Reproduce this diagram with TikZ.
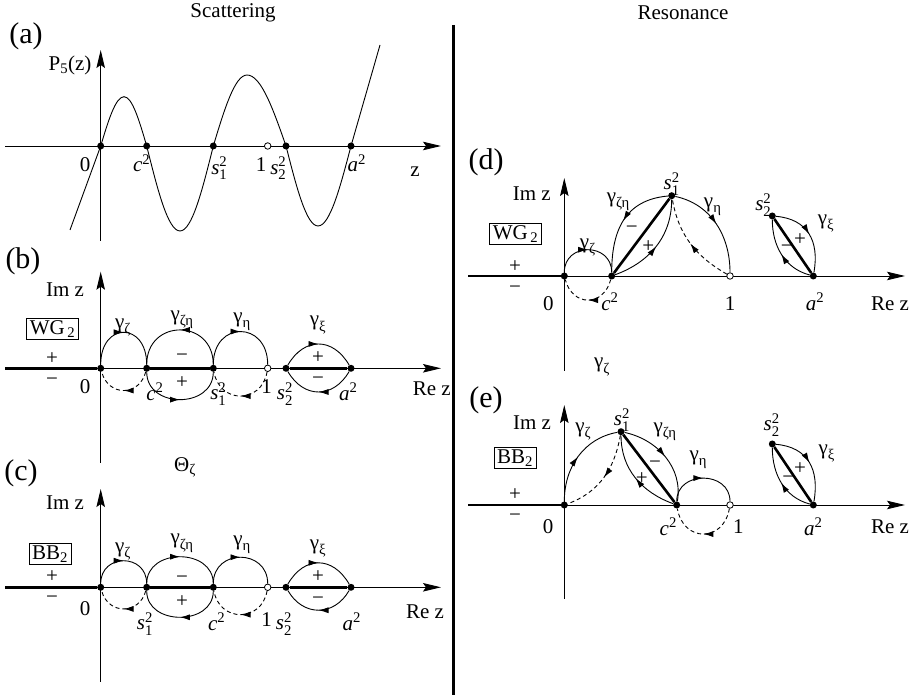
\documentclass[tikz,border=0pt]{standalone}
\usepackage{amsmath}
\usepackage{fontspec}
\setmainfont{Liberation Serif}
\usepackage{tikz}
\usetikzlibrary{arrows.meta,decorations.markings}
\newcommand{\lblfont}{\fontsize{21}{24}\selectfont}
\newcommand{\tagfont}{\fontsize{30}{33}\selectfont}
\newcommand{\gam}[1]{$\text{γ}_{\text{#1}}$}
\newcommand{\sqv}[1]{$\textit{#1}^{\text{2}}$}
\newcommand{\sqs}[1]{$\textit{s}^{\text{2}}_{\text{#1}}$}
\tikzset{
  axisline/.style={-{Stealth[length=18pt, width=8.5pt, inset=3pt]}, draw=black, line width=0.9pt},
  cutline/.style={draw=black, line width=2.6pt},
  graphline/.style={draw=black, line width=0.9pt},
  contour/.style={draw=black, line width=0.9pt, postaction={decorate},
    decoration={markings, mark=at position 0.5 with {\arrow{Latex[length=10pt, width=6pt]}}}},
  ghostcontour/.style={contour, dash pattern=on 4pt off 3pt},
  divider/.style={draw=black, line width=3pt},
  dotnode/.style={circle, fill=black, inner sep=0pt, minimum size=7pt},
  opennode/.style={circle, draw=black, fill=white, line width=0.8pt, inner sep=0pt, minimum size=6.5pt},
  lbl/.style={font=\lblfont, inner sep=0pt},
  tagbox/.style={draw=black, line width=0.8pt, inner xsep=3pt, inner ysep=2pt, font=\lblfont},
  panelnode/.style={font=\tagfont, inner sep=0pt},
}
\begin{document}
\begin{tikzpicture}[x=1pt, y=1pt]
  \useasboundingbox (0,0) rectangle (909,695);
  \node[lbl] (scat) at (233,682) {Scattering};
  \node[lbl] (reso) at (683,682) {Resonance};
  \coordinate (divTop) at (453,670);
  \coordinate (divBot) at (453,0);
  \draw[divider] (divTop) -- (divBot);
  \node[panelnode] (pa) at (26,659) {(a)};
  \node[panelnode] (pb) at (23,434) {(b)};
  \node[panelnode] (pc) at (21,222) {(c)};
  \node[panelnode] (pd) at (486,533) {(d)};
  \node[panelnode] (pe) at (486,295) {(e)};

  \begin{scope}[shift={(100.7,549)}]
    \coordinate (aW) at (-95.7,0);
    \coordinate (aE) at (340.3,0);
    \coordinate (aN) at (0,96);
    \coordinate (aS) at (0,-94.7);
    \draw[axisline] (aW) -- (aE);
    \draw[axisline] (aS) -- (aN);
    \draw[graphline] (-30.7,-84) -- (0,0) sin (23.3,49.3) cos (46,0) sin (79.3,-85) cos (112.6,0)
      sin (146.3,71) cos (185.3,0) sin (217.3,-80) cos (250.3,0) -- (279.3,101);
    \node[dotnode] (a0) at (0,0) {};
    \node[dotnode] (aC) at (46,0) {};
    \node[dotnode] (aS1) at (112.6,0) {};
    \node[opennode] (aOne) at (167,0) {};
    \node[dotnode] (aS2) at (185.3,0) {};
    \node[dotnode] (aA) at (250.3,0) {};
    \node[lbl] (aP) at (-30.7,81) {$\text{P}_{\text{5}}\text{(z)}$};
    \node[lbl] (a0l) at (-15.7,-19) {0};
    \node[lbl] (aCl) at (41,-17.3) {\sqv{c}};
    \node[lbl] (aS1l) at (118.6,-22.3) {\sqs{1}};
    \node[lbl] (aOnel) at (160.3,-19) {1};
    \node[lbl] (aS2l) at (177.6,-22.3) {\sqs{2}};
    \node[lbl] (aAl) at (256,-17.3) {\sqv{a}};
    \node[lbl] (aZ) at (314.3,-25.7) {z};
  \end{scope}

  \begin{scope}[shift={(100.7,326.7)}]
    \coordinate (bW) at (-95.7,0);
    \coordinate (bE) at (340.3,0);
    \coordinate (bN) at (0,96.6);
    \coordinate (bS) at (0,-94.7);
    \draw[axisline] (bW) -- (bE);
    \draw[axisline] (bS) -- (bN);
    \node[dotnode] (b0) at (0,0) {};
    \node[dotnode] (bC) at (46,0) {};
    \node[dotnode] (bS1) at (112.6,0) {};
    \node[opennode] (bOne) at (167,0) {};
    \node[dotnode] (bS2) at (185.3,0) {};
    \node[dotnode] (bA) at (250.3,0) {};
    \draw[cutline] (bW) -- (b0);
    \draw[cutline] (bC) -- (bS1);
    \draw[cutline] (bS2) -- (bA);
    \draw[contour] (b0) to[out=90, in=90, looseness=2.4] (bC);
    \draw[ghostcontour] (bC) to[out=-105, in=-75, looseness=1.5] (b0);
    \draw[contour] (bS1) to[out=90, in=90, looseness=1.78] (bC);
    \draw[contour] (bC) to[out=-90, in=-90, looseness=1.42] (bS1);
    \draw[contour] (bS1) to[out=90, in=90, looseness=2.08] (bOne);
    \draw[ghostcontour] (bOne) to[out=-100, in=-80, looseness=1.58] (bS1);
    \draw[contour] (bS2) to[out=60, in=120, looseness=1.36] (bA);
    \draw[contour] (bA) to[out=-120, in=-60, looseness=1.32] (bS2);
    \node[lbl] (bIm) at (-35.7,78.3) {Im z};
    \node[tagbox] (bTag) at (-48.2,39.5) {$\text{WG}_{\,\text{2}}$};
    \node[lbl] (bPlus) at (-48.7,10) {+};
    \node[lbl] (bMinus) at (-48.7,-13.4) {−};
    \node[lbl] (b0l) at (-15.7,-18.4) {0};
    \node[lbl] (bCl) at (54.3,-23.4) {\sqv{c}};
    \node[lbl] (bS1l) at (117.6,-25.7) {\sqs{1}};
    \node[lbl] (bOnel) at (166,-18.4) {1};
    \node[lbl] (bS2l) at (184.3,-25.7) {\sqs{2}};
    \node[lbl] (bAl) at (247.6,-23.4) {\sqv{a}};
    \node[lbl] (bRe) at (331,-20) {Re z};
    \node[lbl] (bGz) at (22.3,41) {\gam{ζ}};
    \node[lbl] (bGzh) at (81.3,48.3) {\gam{ζη}};
    \node[lbl] (bGh) at (141.3,46.6) {\gam{η}};
    \node[lbl] (bGx) at (217.3,43.3) {\gam{ξ}};
    \node[lbl] (bZm) at (81.3,10.3) {−};
    \node[lbl] (bZp) at (81.3,-14.7) {+};
    \node[lbl] (bXp) at (217.3,11) {+};
    \node[lbl] (bXm) at (217.3,-12.5) {−};
  \end{scope}

  \begin{scope}[shift={(100.7,107.7)}]
    \coordinate (cW) at (-95.7,0);
    \coordinate (cE) at (340.3,0);
    \coordinate (cN) at (0,98.3);
    \coordinate (cS) at (0,-94.4);
    \draw[axisline] (cW) -- (cE);
    \draw[axisline] (cS) -- (cN);
    \node[dotnode] (c0) at (0,0) {};
    \node[dotnode] (cS1) at (46,0) {};
    \node[dotnode] (cC) at (112.6,0) {};
    \node[opennode] (cOne) at (167,0) {};
    \node[dotnode] (cS2) at (185.3,0) {};
    \node[dotnode] (cA) at (250.3,0) {};
    \draw[cutline] (cW) -- (c0);
    \draw[cutline] (cS1) -- (cC);
    \draw[cutline] (cS2) -- (cA);
    \draw[contour] (c0) to[out=90, in=90, looseness=1.7] (cS1);
    \draw[ghostcontour] (cS1) to[out=-105, in=-75, looseness=1.45] (c0);
    \draw[contour] (cS1) to[out=90, in=90, looseness=1.38] (cC);
    \draw[contour] (cC) to[out=-90, in=-90, looseness=1.35] (cS1);
    \draw[contour] (cC) to[out=90, in=90, looseness=1.66] (cOne);
    \draw[ghostcontour] (cOne) to[out=-100, in=-80, looseness=1.55] (cC);
    \draw[contour] (cS2) to[out=60, in=120, looseness=1.37] (cA);
    \draw[contour] (cA) to[out=-120, in=-60, looseness=1.27] (cS2);
    \node[lbl] (cTh) at (84.3,120.3) {$\text{Θ}_{\text{ζ}}$};
    \node[lbl] (cIm) at (-35.7,84.3) {Im z};
    \node[tagbox] (cTag) at (-50.7,33.3) {$\text{BB}_{\text{2}}$};
    \node[lbl] (cPlus) at (-48.7,10.3) {+};
    \node[lbl] (cMinus) at (-48.7,-12.7) {−};
    \node[lbl] (c0l) at (-15.7,-21) {0};
    \node[lbl] (cS1l) at (44.3,-36.7) {\sqs{1}};
    \node[lbl] (cCl) at (116,-34.4) {\sqv{c}};
    \node[lbl] (cOnel) at (166,-32.7) {1};
    \node[lbl] (cS2l) at (183.3,-36.7) {\sqs{2}};
    \node[lbl] (cAl) at (251,-34.4) {\sqv{a}};
    \node[lbl] (cRe) at (324.3,-24.4) {Re z};
    \node[lbl] (cGz) at (22.3,35.6) {\gam{ζ}};
    \node[lbl] (cGzh) at (81.3,44) {\gam{ζη}};
    \node[lbl] (cGh) at (141.3,42.3) {\gam{η}};
    \node[lbl] (cGx) at (217.3,39) {\gam{ξ}};
    \node[lbl] (cZm) at (81.3,8) {−};
    \node[lbl] (cZp) at (81.3,-14.4) {+};
    \node[lbl] (cXp) at (217.3,10.5) {+};
    \node[lbl] (cXm) at (217.3,-13) {−};
  \end{scope}

  \begin{scope}[shift={(564.3,419)}]
    \coordinate (dW) at (-96.3,0);
    \coordinate (dE) at (340.7,0);
    \coordinate (dN) at (0,98);
    \coordinate (dS) at (0,-94.7);
    \draw[axisline] (dW) -- (dE);
    \draw[axisline] (dS) -- (dN);
    \node[dotnode] (d0) at (0,0) {};
    \node[dotnode] (dC) at (47.4,0) {};
    \node[dotnode] (dS1) at (107.4,80.3) {};
    \node[opennode] (dOne) at (165.7,0) {};
    \node[dotnode] (dS2) at (208,60) {};
    \node[dotnode] (dA) at (249,0) {};
    \draw[cutline] (dW) -- (d0);
    \draw[cutline] (dC) -- (dS1);
    \draw[cutline] (dS2) -- (dA);
    \draw[contour] (d0) to[out=90, in=90, looseness=1.63] (dC);
    \draw[ghostcontour] (dC) to[out=-105, in=-75, looseness=1.6] (d0);
    \draw[contour] (dS1) to[out=185, in=90, looseness=1.15] (dC);
    \draw[contour] (dC) to[out=20, in=-90] (dS1);
    \draw[contour] (dS1) to[out=-12, in=90] (dOne);
    \draw[ghostcontour] (dOne) to[out=150, in=-80] (dS1);
    \draw[contour] (dS2) to[out=-5, in=80, looseness=1.2] (dA);
    \draw[contour] (dA) to[out=165, in=-90] (dS2);
    \node[lbl] (dIm) at (-32.6,82.7) {Im z};
    \node[tagbox] (dTag) at (-48.8,42) {$\text{WG}_{\,\text{2}}$};
    \node[lbl] (dPlus) at (-49.3,9) {+};
    \node[lbl] (dMinus) at (-49.3,-14) {−};
    \node[lbl] (d0l) at (-16,-27.3) {0};
    \node[lbl] (dCl) at (45.7,-25.7) {\sqv{c}};
    \node[lbl] (dS1l) at (107.4,92) {\sqs{1}};
    \node[lbl] (dOnel) at (165.7,-27.3) {1};
    \node[lbl] (dS2l) at (199,71) {\sqs{2}};
    \node[lbl] (dAl) at (250.7,-25.7) {\sqv{a}};
    \node[lbl] (dRe) at (325.7,-27.3) {Re z};
    \node[lbl] (dGz) at (23.4,28.7) {\gam{ζ}};
    \node[lbl] (dGzh) at (54,74.3) {\gam{ζη}};
    \node[lbl] (dGh) at (148.4,69.3) {\gam{η}};
    \node[lbl] (dGx) at (261.7,52.7) {\gam{ξ}};
    \node[lbl] (dZm) at (67.4,46) {−};
    \node[lbl] (dZp) at (84,29.3) {+};
    \node[lbl] (dXp) at (235.7,36) {+};
    \node[lbl] (dXm) at (222.4,27.7) {−};
    \node[lbl] (dGzs) at (37.7,-91) {\gam{ζ}};
  \end{scope}

  \begin{scope}[shift={(564.3,190)}]
    \coordinate (eW) at (-96.3,0);
    \coordinate (eE) at (340.7,0);
    \coordinate (eN) at (0,100);
    \coordinate (eS) at (0,-94);
    \draw[axisline] (eW) -- (eE);
    \draw[axisline] (eS) -- (eN);
    \node[dotnode] (e0) at (0,0) {};
    \node[dotnode] (eS1) at (56.7,73.3) {};
    \node[dotnode] (eC) at (112.4,0) {};
    \node[opennode] (eOne) at (165.7,0) {};
    \node[dotnode] (eS2) at (208,61) {};
    \node[dotnode] (eA) at (249,0) {};
    \draw[cutline] (eW) -- (e0);
    \draw[cutline] (eS1) -- (eC);
    \draw[cutline] (eS2) -- (eA);
    \draw[contour] (e0) to[out=90, in=190] (eS1);
    \draw[ghostcontour] (eS1) to[out=-100, in=20] (e0);
    \draw[contour] (eS1) to[out=-12, in=80] (eC);
    \draw[contour] (eC) to[out=160, in=-90] (eS1);
    \draw[contour] (eC) to[out=90, in=90, looseness=1.49] (eOne);
    \draw[ghostcontour] (eOne) to[out=-100, in=-80, looseness=1.7] (eC);
    \draw[contour] (eS2) to[out=-5, in=80, looseness=1.2] (eA);
    \draw[contour] (eA) to[out=165, in=-90] (eS2);
    \node[lbl] (eIm) at (-32.3,82) {Im z};
    \node[tagbox] (eTag) at (-49.3,47) {$\text{BB}_{\text{2}}$};
    \node[lbl] (ePlus) at (-49.3,10) {+};
    \node[lbl] (eMinus) at (-49.3,-13) {−};
    \node[lbl] (e0l) at (-16.3,-22) {0};
    \node[lbl] (eS1l) at (57.7,85) {\sqs{1}};
    \node[lbl] (eCl) at (104,-21.7) {\sqv{c}};
    \node[lbl] (eOnel) at (174,-21.7) {1};
    \node[lbl] (eS2l) at (207.4,80) {\sqs{2}};
    \node[lbl] (eAl) at (249,-21.7) {\sqv{a}};
    \node[lbl] (eRe) at (325.7,-21.7) {Re z};
    \node[lbl] (eGz) at (19,73.3) {\gam{ζ}};
    \node[lbl] (eGzh) at (100.7,73.3) {\gam{ζη}};
    \node[lbl] (eGh) at (134,45) {\gam{η}};
    \node[lbl] (eGx) at (262.4,51.7) {\gam{ξ}};
    \node[lbl] (eZm) at (90.7,40) {−};
    \node[lbl] (eZp) at (77.4,26.7) {+};
    \node[lbl] (eXp) at (235.7,36.7) {+};
    \node[lbl] (eXm) at (224,25) {−};
  \end{scope}
\end{tikzpicture}
\end{document}
